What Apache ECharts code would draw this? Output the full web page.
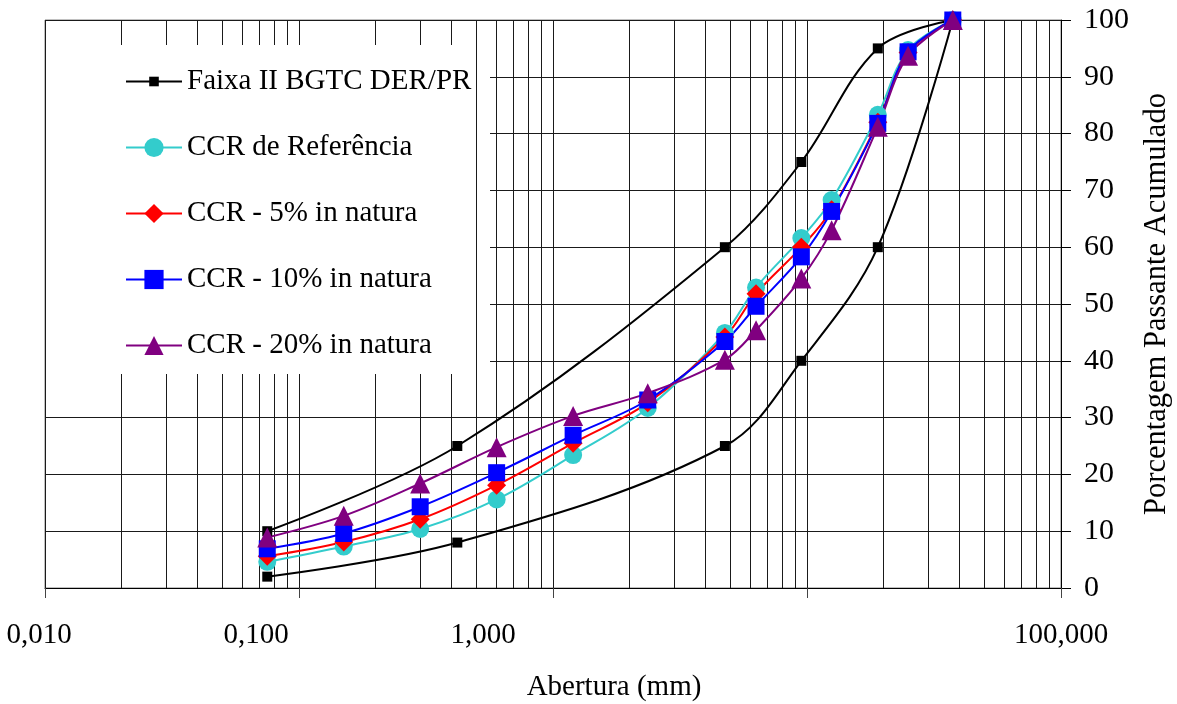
<!DOCTYPE html>
<html><head><meta charset="utf-8">
<script src="https://cdn.jsdelivr.net/npm/echarts@6/dist/echarts.min.js"></script>
<style>html,body{margin:0;padding:0;background:#fff}#c{width:1177px;height:704px}</style>
</head><body><div id="c"></div>
<script>
// ---- data ----
const sieves = [0.075, 0.15, 0.3, 0.6, 1.2, 2.36, 4.75, 6.3, 9.5, 12.5, 19, 25, 37.5];
const ccrRef = [4.6, 7.3, 10.4, 15.6, 23.4, 31.7, 44.9, 52.9, 61.6, 68.3, 83.3, 94.7, 100];
const ccr5   = [5.6, 8.1, 12.1, 18.1, 25.5, 32.6, 44.2, 51.8, 60.0, 66.6, 82.0, 94.3, 100];
const ccr10  = [6.9, 9.6, 14.3, 20.3, 26.9, 33.1, 43.4, 49.6, 58.3, 66.3, 81.8, 94.4, 100];
const ccr20  = [8.9, 12.7, 18.4, 24.8, 30.3, 34.3, 40.2, 45.4, 54.5, 63.0, 81.2, 93.7, 100];
const bandSieves = [0.075, 0.42, 4.75, 9.5, 19, 37.5];
const bandUpper  = [10, 25, 60, 75, 95, 100];
const bandLower  = [2, 8, 25, 40, 60, 100];
const xTickValues = [0.01, 0.1, 1, 10, 100];
const xTickLabels = ['0,010', '0,100', '1,000', '', '100,000'];
const seriesNames = ['Faixa II BGTC DER/PR', 'CCR de Referência', 'CCR - 5% in natura', 'CCR - 10% in natura', 'CCR - 20% in natura'];
const xName = 'Abertura (mm)';
const yName = 'Porcentagem Passante Acumulado';

// minor log grid positions (2..9 within each decade)
const minorVals = [];
[0.01, 0.1, 1, 10].forEach(d => { for (let k = 2; k <= 9; k++) minorVals.push(d * k); });

const FONT = '"Liberation Serif", "Times New Roman", serif';
const pair = (xs, ys) => xs.map((x, i) => [x, ys[i]]);
// label horizontal shifts (right padding) to mimic reference label placement
const labelPad = [12, 86, 140, 0, 0];
const rich = {};
labelPad.forEach((p, i) => { rich['s' + i] = { fontFamily: FONT, fontSize: 29, color: '#000', padding: [0, p, 0, 0] }; });

const lineSeries = (name, data, color, symbol, size) => ({
  type: 'line', name, data, smooth: 0.35, symbol, symbolSize: size, z: 3,
  lineStyle: { color, width: 2 }, itemStyle: { color }, emphasis: { disabled: true }
});

const chart = echarts.init(document.getElementById('c'), null, { renderer: 'canvas' });
chart.setOption({
  animation: false,
  backgroundColor: '#fff',
  textStyle: { fontFamily: FONT },
  grid: { left: 45, right: 116, top: 20, bottom: 116, outerBoundsMode: 'none', containLabel: false, show: true, borderColor: '#808080', borderWidth: 1, backgroundColor: 'transparent' },
  xAxis: {
    type: 'log', logBase: 10, min: 0.01, max: 100,
    name: xName, nameLocation: 'middle', nameGap: 85,
    nameTextStyle: { fontFamily: FONT, fontSize: 29, color: '#000', padding: [0, 0, 0, 122] },
    axisLine: { lineStyle: { color: '#000', width: 1 } },
    axisTick: { show: true, length: 10, lineStyle: { color: '#444' } },
    splitLine: { show: true, lineStyle: { color: '#1a1a1a', width: 1 } },
    axisLabel: {
      margin: 33, color: '#000', fontFamily: FONT, fontSize: 29, rich,
      formatter: v => {
        let i = 0, best = Infinity;
        xTickValues.forEach((t, j) => { const d = Math.abs(Math.log10(v) - Math.log10(t)); if (d < best) { best = d; i = j; } });
        return xTickLabels[i] ? '{s' + i + '|' + xTickLabels[i] + '}' : '';
      }
    }
  },
  yAxis: {
    type: 'value', position: 'right', min: 0, max: 100, interval: 10,
    name: yName, nameLocation: 'middle', nameGap: 80, nameRotate: 90,
    nameTextStyle: { fontFamily: FONT, fontSize: 30.5, color: '#000' },
    axisLine: { show: true, lineStyle: { color: '#000', width: 1 } },
    axisTick: { show: true, length: 10, lineStyle: { color: '#000' } },
    splitLine: { show: true, lineStyle: { color: '#1a1a1a', width: 1 } },
    axisLabel: { margin: 23, color: '#000', fontFamily: FONT, fontSize: 30 }
  },
  legend: [
    {
      data: [seriesNames[0]], orient: 'vertical', left: 125, top: 67, padding: 0,
      itemWidth: 56, itemHeight: 12, selectedMode: false, z: 5,
      textStyle: { fontFamily: FONT, fontSize: 29, color: '#000', lineHeight: 29 }
    },
    {
      data: seriesNames.slice(1), orient: 'vertical', left: 125, top: 133, padding: 0,
      itemWidth: 56, itemHeight: 24, itemGap: 37, selectedMode: false, z: 5,
      textStyle: { fontFamily: FONT, fontSize: 29, color: '#000', lineHeight: 29 }
    }
  ],
  graphic: [
    { type: 'rect', z: 1, silent: true, shape: { x: 46, y: 45, width: 430, height: 329 }, style: { fill: '#fff' } },
    { type: 'rect', z: 1, silent: true, shape: { x: 477, y: 45, width: 13, height: 329 }, style: { fill: '#fff' } }
  ],
  series: [
    {
      type: 'custom', name: '_minorGrid', silent: true, z: 0,
      data: minorVals.map(v => [v, 0]),
      renderItem: (params, api) => {
        const p1 = api.coord([api.value(0), 0]);
        const p2 = api.coord([api.value(0), 100]);
        const x = Math.round(p1[0] - 0.5) + 0.5;
        return { type: 'line', shape: { x1: x, y1: p1[1], x2: x, y2: p2[1] }, style: { stroke: '#1a1a1a', lineWidth: 1 } };
      }
    },
    lineSeries(seriesNames[0], pair(bandSieves, bandUpper), '#000', 'rect', 10),
    lineSeries(seriesNames[0], pair(bandSieves, bandLower), '#000', 'rect', 10),
    lineSeries(seriesNames[1], pair(sieves, ccrRef), '#33CCCC', 'circle', 18),
    lineSeries(seriesNames[2], pair(sieves, ccr5), '#FF0000', 'diamond', 19),
    lineSeries(seriesNames[3], pair(sieves, ccr10), '#0000FF', 'rect', 17),
    lineSeries(seriesNames[4], pair(sieves, ccr20), '#800080', 'triangle', 20)
  ]
});
</script></body></html>
